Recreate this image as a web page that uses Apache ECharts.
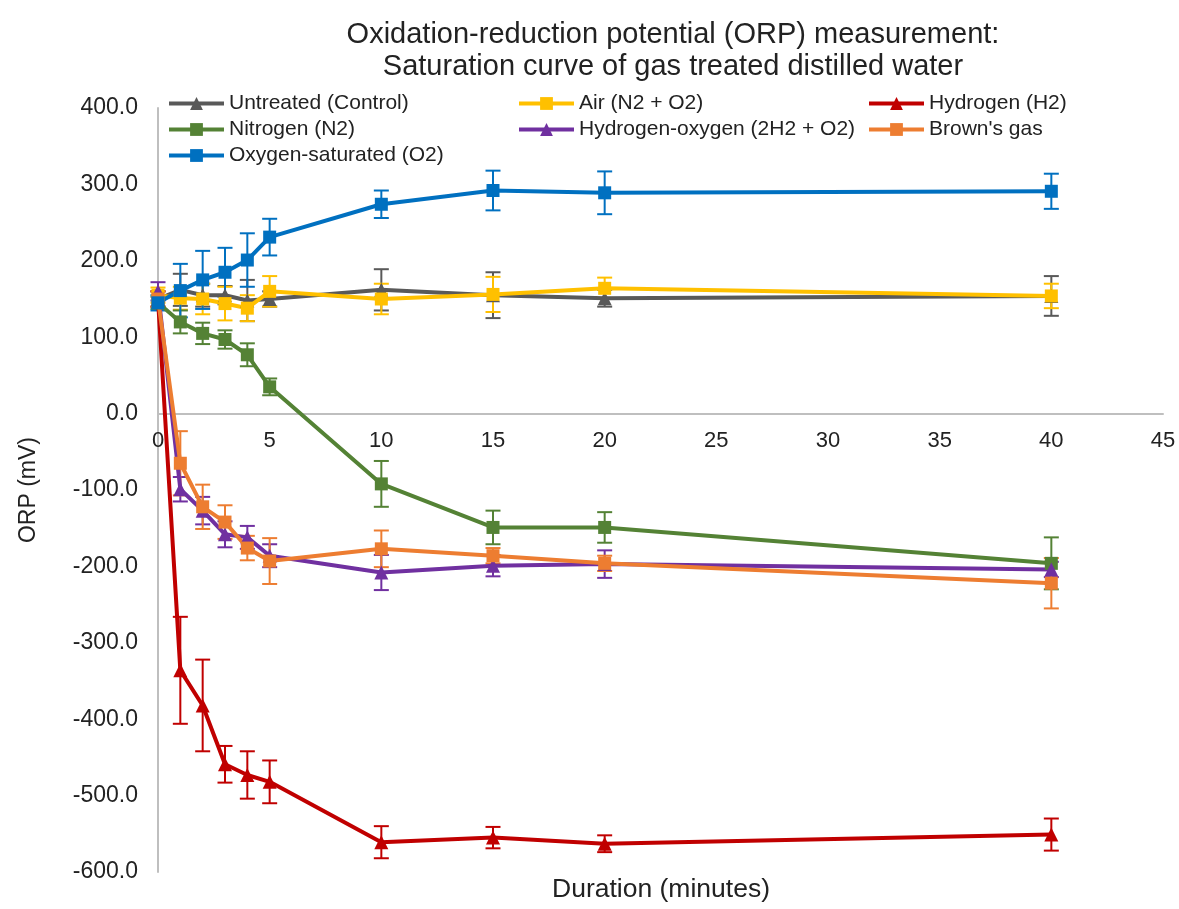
<!DOCTYPE html>
<html>
<head>
<meta charset="utf-8">
<script src="https://cdn.jsdelivr.net/npm/echarts@6/dist/echarts.min.js"></script>
<style>
  html, body { margin: 0; padding: 0; background: #fff; }
  #chart { width: 1179px; height: 909px; }
</style>
</head>
<body>
<div id="chart"></div>
<script>
// Sampling times (minutes)
const times = [0, 1, 2, 3, 4, 5, 10, 15, 20, 40];

// ORP means (mV) and standard deviations for each treatment
const untreated    = [150, 162, 155, 155, 148, 150, 162, 155, 151, 154];
const untreatedErr = [10, 21, 15, 12, 27, 10, 27, 30, 11, 26];

const air    = [155, 151, 150, 144, 138, 160, 150, 156, 164, 154];
const airErr = [10, 15, 20, 22, 17, 20, 20, 23, 14, 16];

const hydrogen    = [150, -336, -382, -459, -473, -482, -561, -555, -563, -551];
const hydrogenErr = [10, 70, 60, 24, 31, 28, 21, 14, 11, 21];

const nitrogen    = [145, 120, 105, 97, 77, 35, -92, -149, -149, -196];
const nitrogenErr = [8, 15, 14, 12, 15, 11, 30, 22, 20, 34];

const hydroOxy    = [160, -99, -127, -158, -162, -186, -208, -199, -197, -204];
const hydroOxyErr = [12, 16, 18, 17, 15, 15, 23, 14, 18, 10];

const browns    = [150, -65, -122, -142, -176, -193, -177, -186, -196, -222];
const brownsErr = [10, 42, 29, 22, 16, 30, 24, 10, 10, 33];

const oxygen    = [145, 161, 175, 185, 201, 231, 274, 292, 289, 291];
const oxygenErr = [10, 35, 38, 32, 35, 24, 18, 26, 28, 23];

const seriesDefs = [
  { name: 'Untreated (Control)',        vals: untreated, err: untreatedErr, color: '#595959', symbol: 'triangle' },
  { name: 'Air (N2 + O2)',              vals: air,       err: airErr,       color: '#FFC000', symbol: 'rect' },
  { name: 'Hydrogen (H2)',              vals: hydrogen,  err: hydrogenErr,  color: '#C00000', symbol: 'triangle' },
  { name: 'Nitrogen (N2)',              vals: nitrogen,  err: nitrogenErr,  color: '#548235', symbol: 'rect' },
  { name: 'Hydrogen-oxygen (2H2 + O2)', vals: hydroOxy,  err: hydroOxyErr,  color: '#7030A0', symbol: 'triangle' },
  { name: "Brown's gas",                vals: browns,    err: brownsErr,    color: '#ED7D31', symbol: 'rect' },
  { name: 'Oxygen-saturated (O2)',      vals: oxygen,    err: oxygenErr,    color: '#0070C0', symbol: 'rect' }
];

const FONT = '"Liberation Sans", Arial, sans-serif';

// Error bars: vertical whisker with caps, positioned through the axes
function errorBarRenderer(color) {
  return function (params, api) {
    const x = api.value(0);
    const top = api.coord([x, api.value(2)]);
    const bot = api.coord([x, api.value(1)]);
    const half = 7.5;
    const style = { stroke: color, lineWidth: 2, fill: null };
    return {
      type: 'group',
      children: [
        { type: 'line', shape: { x1: top[0], y1: top[1], x2: bot[0], y2: bot[1] }, style },
        { type: 'line', shape: { x1: top[0] - half, y1: top[1], x2: top[0] + half, y2: top[1] }, style },
        { type: 'line', shape: { x1: bot[0] - half, y1: bot[1], x2: bot[0] + half, y2: bot[1] }, style }
      ]
    };
  };
}

const series = [];
// Mean curves (listed first so the legend takes their line + marker icons)
seriesDefs.forEach(function (d) {
  series.push({
    name: d.name,
    type: 'line',
    data: times.map(function (t, i) { return [t, d.vals[i]]; }),
    symbol: d.symbol,
    symbolSize: d.symbol === 'triangle' ? 14 : 13,
    showAllSymbol: true,
    color: d.color,
    lineStyle: { color: d.color, width: 4 },
    itemStyle: { color: d.color },
    z: 3
  });
});
// Standard-deviation whiskers
seriesDefs.forEach(function (d) {
  series.push({
    name: d.name,
    type: 'custom',
    color: d.color,
    itemStyle: { color: d.color },
    renderItem: errorBarRenderer(d.color),
    data: times.map(function (t, i) { return [t, d.vals[i] - d.err[i], d.vals[i] + d.err[i]]; }),
    encode: { x: 0, y: [1, 2] },
    z: 2,
    silent: true
  });
});

const legendBase = {
  orient: 'vertical',
  itemWidth: 55,
  itemHeight: 16,
  itemGap: 5,
  lineStyle: { width: 4 },
  textStyle: { fontFamily: FONT, fontSize: 21, lineHeight: 21, color: '#222' },
  padding: 0
};

const option = {
  animation: false,
  title: {
    text: 'Oxidation-reduction potential (ORP) measurement:\nSaturation curve of gas treated distilled water',
    left: 668,
    top: 14,
    textAlign: 'center',
    textStyle: { fontFamily: FONT, fontSize: 29, fontWeight: 'normal', color: '#222', lineHeight: 32 }
  },
  legend: [
    Object.assign({}, legendBase, { left: 167, top: 93, data: ['Untreated (Control)', 'Nitrogen (N2)', 'Oxygen-saturated (O2)'] }),
    Object.assign({}, legendBase, { left: 517, top: 93, data: ['Air (N2 + O2)', 'Hydrogen-oxygen (2H2 + O2)'] }),
    Object.assign({}, legendBase, { left: 867, top: 93, data: ['Hydrogen (H2)', "Brown's gas"] })
  ],
  grid: { left: 158, right: 16, top: 108, bottom: 37, containLabel: false },
  xAxis: {
    type: 'value',
    min: 0, max: 45, interval: 5,
    position: 'bottom',
    offset: -458,
    axisLine: { onZero: false, lineStyle: { color: '#BFBFBF', width: 2 } },
    axisTick: { show: false },
    splitLine: { show: false },
    axisLabel: { fontFamily: FONT, fontSize: 22, color: '#222', margin: 16 }
  },
  yAxis: {
    type: 'value',
    min: -600, max: 400, interval: 100,
    name: 'ORP (mV)',
    nameLocation: 'middle',
    nameRotate: 90,
    nameGap: 118,
    nameTextStyle: { fontFamily: FONT, fontSize: 23, color: '#222' },
    axisLine: { show: true, lineStyle: { color: '#BFBFBF', width: 2 } },
    axisTick: { show: false },
    splitLine: { show: false },
    axisLabel: {
      fontFamily: FONT, fontSize: 23, color: '#222', margin: 20,
      formatter: function (v) { return v.toFixed(1); }
    }
  },
  graphic: [{
    type: 'text',
    left: 552,
    top: 876,
    style: { text: 'Duration (minutes)', font: '26.5px ' + FONT, fill: '#222' }
  }],
  series: series
};

const chart = echarts.init(document.getElementById('chart'), null, { renderer: 'canvas' });
chart.setOption(option);
</script>
</body>
</html>
